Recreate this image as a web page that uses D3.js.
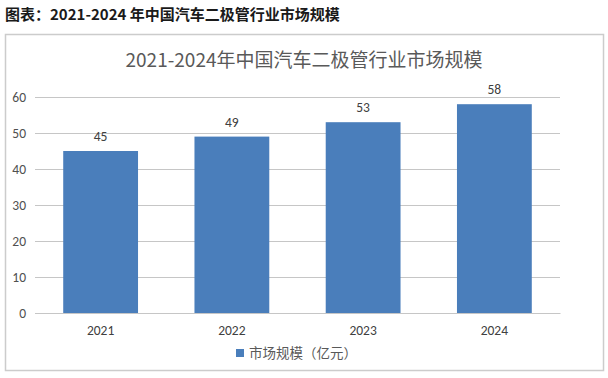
<!DOCTYPE html>
<html>
<head>
<meta charset="utf-8">
<script src="https://cdn.jsdelivr.net/npm/d3@7"></script>
<style>
  body { margin: 0; background: #fff; }
  svg text { font-family: Calibri, "Liberation Sans", "Noto Sans CJK SC", sans-serif; }
</style>
</head>
<body>
<div id="chart"></div>
<script>
// chart data
const years = ['2021', '2022', '2023', '2024'];
const marketSize = [45, 49, 53, 58];
const yTicks = [0, 10, 20, 30, 40, 50, 60];
const seriesName = '市场规模（亿元）';

const width = 608;
const height = 378;
const margins = { top: 97, right: 48, bottom: 65, left: 35 };

const svg = d3.select('#chart')
  .append('svg')
  .attr('width', width)
  .attr('height', height);

// outer caption
svg.append('text')
  .attr('x', 5)
  .attr('y', 20)
  .attr('font-size', 15)
  .attr('font-weight', 'bold')
  .attr('fill', '#1a1a1a')
  .style('font-family', '"Noto Sans CJK SC", sans-serif')
  .text('图表：2021-2024 年中国汽车二极管行业市场规模');

// chart frame
svg.append('rect')
  .attr('x', 5.5)
  .attr('y', 34.5)
  .attr('width', 598)
  .attr('height', 336)
  .attr('fill', '#fff')
  .attr('stroke', '#cccccc')
  .attr('stroke-width', 1.5);

svg.append('text')
  .attr('x', 304)
  .attr('y', 67)
  .attr('text-anchor', 'middle')
  .attr('font-size', 19)
  .attr('fill', '#595959')
  .style('font-family', '"Noto Sans CJK SC", sans-serif')
  .text('2021-2024年中国汽车二极管行业市场规模');

const innerWidth = width - margins.left - margins.right;
const innerHeight = 313 - margins.top;

const g = svg.append('g')
  .attr('transform', `translate(${margins.left},${margins.top})`);

const xScale = d3.scaleBand()
  .domain(years)
  .range([0, innerWidth])
  .paddingInner(0.43)
  .paddingOuter(0.215);

const yScale = d3.scaleLinear()
  .domain([0, 60])
  .range([innerHeight, 0]);

// gridlines + y labels
const yAxis = d3.axisLeft(yScale)
  .tickValues(yTicks)
  .tickSize(-innerWidth)
  .tickPadding(9);

g.append('g')
  .attr('class', 'y axis')
  .call(yAxis)
  .call(s => s.select('.domain').remove())
  .call(s => s.selectAll('line').attr('stroke', '#c6c6c6'))
  .call(s => s.selectAll('text')
    .attr('font-size', 13.5)
    .attr('fill', '#505050'));

// bars
g.selectAll('rect.bar')
  .data(marketSize)
  .enter()
  .append('rect')
  .attr('class', 'bar')
  .attr('x', (d, i) => xScale(years[i]))
  .attr('y', d => yScale(d))
  .attr('width', xScale.bandwidth())
  .attr('height', d => innerHeight - yScale(d))
  .attr('fill', '#4a7ebb');

// value labels
g.selectAll('text.value')
  .data(marketSize)
  .enter()
  .append('text')
  .attr('class', 'value')
  .attr('x', (d, i) => xScale(years[i]) + xScale.bandwidth() / 2)
  .attr('y', d => yScale(d) - 10)
  .attr('text-anchor', 'middle')
  .attr('font-size', 13.5)
  .attr('fill', '#404040')
  .text(d => d);

// x axis
const xAxis = d3.axisBottom(xScale)
  .tickSize(0)
  .tickPadding(12);

g.append('g')
  .attr('class', 'x axis')
  .attr('transform', `translate(0,${innerHeight})`)
  .call(xAxis)
  .call(s => s.select('.domain').attr('stroke', '#c6c6c6'))
  .call(s => s.selectAll('text')
    .attr('font-size', 13.5)
    .attr('fill', '#404040'));

// legend
const legend = svg.append('g')
  .attr('transform', 'translate(236,353)');

legend.append('rect')
  .attr('x', 0)
  .attr('y', -4)
  .attr('width', 8)
  .attr('height', 8)
  .attr('fill', '#4a7ebb');

legend.append('text')
  .attr('x', 13)
  .attr('y', 5)
  .attr('font-size', 13.5)
  .attr('fill', '#595959')
  .style('font-family', '"Noto Sans CJK SC", sans-serif')
  .text(seriesName);
</script>
</body>
</html>
